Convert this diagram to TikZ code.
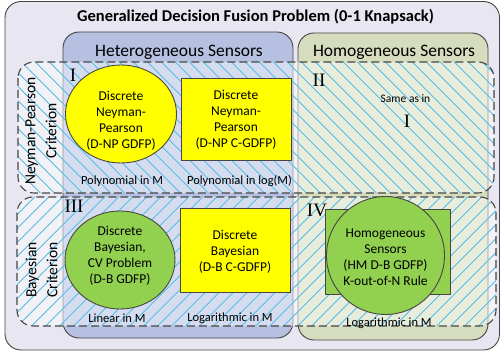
\documentclass[tikz,border=0pt]{standalone}
\usepackage{fontspec}
\setmainfont{Carlito}
\newfontfamily\romanfont{Liberation Serif}
\usetikzlibrary{patterns.meta,shapes.geometric}
\definecolor{outerfill}{RGB}{232,230,240}
\definecolor{hetfill}{RGB}{182,193,226}
\definecolor{homfill}{RGB}{214,221,190}
\definecolor{hatch}{RGB}{100,195,230}
\definecolor{edge}{RGB}{70,70,70}
\definecolor{ygreen}{RGB}{146,208,80}
\definecolor{yel}{RGB}{255,255,0}
\begin{document}
\begin{tikzpicture}[x=1pt,y=-1pt,
  box/.style={draw=edge, line width=0.9pt},
  bandline/.style={draw=edge, line width=1.1pt, dash pattern=on 8pt off 4pt, rounded corners=16pt},
  bandfill/.style={fill=white, fill opacity=0.45, rounded corners=16pt},
  hatchNW/.style={pattern={Lines[angle=-45,distance=10.5pt,line width=1.1pt]}, pattern color=hatch, rounded corners=16pt},
  hatchNE/.style={pattern={Lines[angle=45,distance=10.5pt,line width=1.1pt]}, pattern color=hatch, rounded corners=16pt},
  lbl/.style={font=\fontsize{12.5}{14}\selectfont, inner sep=0},
  num/.style={font=\romanfont\fontsize{19}{20}\selectfont, inner sep=0},
  intext/.style={font=\fontsize{13.5}{16}\selectfont, align=center, inner sep=0},
  head/.style={font=\fontsize{17.5}{18}\selectfont, inner sep=0},
  crit/.style={rotate=90, align=center, font=\fontsize{15.5}{21}\selectfont, inner sep=0},
  shp/.style={draw=edge, line width=0.9pt, inner sep=0},
]
\useasboundingbox (0,0) rectangle (501,358);
\draw[box, fill=outerfill, rounded corners=16pt] (5,1.5) rectangle (499.5,350);
\node[font=\bfseries\fontsize{16.5}{18}\selectfont, inner sep=0] (title) at (255.5,17) {Generalized Decision Fusion Problem (0-1 Knapsack)};
% columns
\draw[box, fill=hetfill, rounded corners=16pt] (63,32) rectangle (293,338);
\draw[box, fill=homfill, rounded corners=16pt] (298,33) rectangle (488,340);
\node[head] (het) at (179,52) {Heterogeneous Sensors};
\node[head] (hom) at (394,52) {Homogeneous Sensors};
% bands
\fill[bandfill] (18,62) rectangle (494,193);
\fill[hatchNW] (18,62) rectangle (494,193);
\draw[bandline] (18,62) rectangle (494,193);
\fill[bandfill] (17,197) rectangle (496,326);
\fill[hatchNE] (17,197) rectangle (496,326);
\draw[bandline] (17,197) rectangle (496,326);
\node[crit] (np) at (41,131) {Neyman-Pearson\\Criterion};
\node[crit] (bay) at (41.5,270) {Bayesian\\Criterion};
% region I
\node[num] (nI) at (73,75) {I};
\node[shp, ellipse, fill=yel, minimum width=111pt, minimum height=98pt] (c1) at (121,114) {};
\node[intext] (t1) at (121,120.5) {Discrete\\Neyman-\\Pearson\\(D-NP GDFP)};
\node[shp, fill=yel, minimum width=110pt, minimum height=82pt] (r1) at (236,119) {};
\node[intext] (t2) at (236,120) {Discrete\\Neyman-\\Pearson\\(D-NP C-GDFP)};
\node[lbl] (p1) at (122,181) {Polynomial in M};
\node[lbl] (p2) at (239.5,181) {Polynomial in log(M)};
% region II
\node[num] (nII) at (319,80) {II};
\node[font=\fontsize{11.5}{13}\selectfont, inner sep=0] (same) at (405.5,99) {Same as in};
\node[num] (sameI) at (407,121) {I};
% region III
\node[num] (nIII) at (74,206) {III};
\node[shp, ellipse, fill=ygreen, minimum width=110pt, minimum height=98pt] (c2) at (120,260) {};
\node[intext] (t3) at (120,256) {Discrete\\Bayesian,\\CV Problem\\(D-B GDFP)};
\node[shp, fill=yel, minimum width=110pt, minimum height=84pt] (r2) at (235,250) {};
\node[intext] (t4) at (235,252) {Discrete\\Bayesian\\(D-B C-GDFP)};
\node[lbl] (l1) at (117,318) {Linear in M};
\node[lbl] (l2) at (230,318) {Logarithmic in M};
% region IV
\node[num] (nIV) at (317,210) {IV};
\node[shp, fill=ygreen, minimum width=125pt, minimum height=85pt] (r3) at (387.5,251.5) {};
\node[shp, circle, fill=ygreen, minimum size=118pt] (c3) at (385.5,255.5) {};
\node[intext] (t5) at (385.5,257) {Homogeneous\\Sensors\\(HM D-B GDFP)\\K-out-of-N Rule};
\node[lbl] (l3) at (389,323) {Logarithmic in M};
\end{tikzpicture}
\end{document}
